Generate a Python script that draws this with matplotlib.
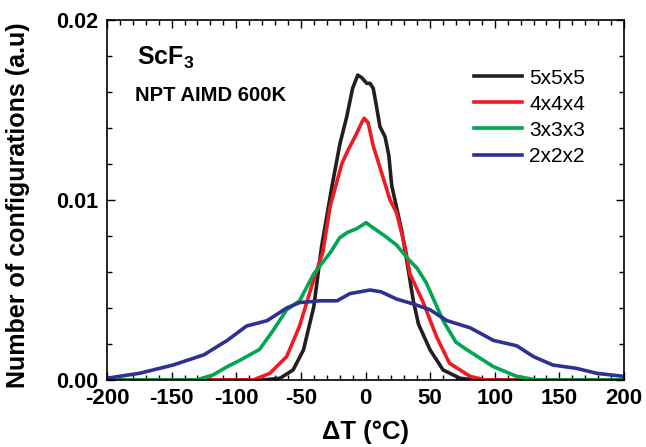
import matplotlib
matplotlib.use("Agg")
import matplotlib.pyplot as plt
from matplotlib.ticker import MultipleLocator, FormatStrFormatter

# ---- data ----
t_555 = [-200, -80, -66, -56, -48, -40, -34, -26, -19.7, -14.5, -10, -6, -3, 1, 3.5, 6, 8.5, 11.2, 15.1, 18, 20.3, 24, 28, 32, 37, 41, 50, 60, 73, 85, 200]
y_555 = [0, 0, 0.0001, 0.00056, 0.00167, 0.00407, 0.0074, 0.01074, 0.01315, 0.01463, 0.0162, 0.01694, 0.0168, 0.01648, 0.01648, 0.0162, 0.0152, 0.01407, 0.01352, 0.0125, 0.0108, 0.0096, 0.0083, 0.0066, 0.0044, 0.0031, 0.00167, 0.00056, 0.0001, 0, 0]

t_444 = [-200, -87, -74, -61, -51, -40, -33, -27.5, -18.4, -13.3, -6.8, -3, -1, 2, 6, 12.5, 19, 24, 30.6, 34.4, 44.7, 55, 65, 81, 93, 200]
y_444 = [0, 0, 0.00037, 0.0013, 0.003, 0.0056, 0.0071, 0.0096, 0.012, 0.0128, 0.0137, 0.0143, 0.01454, 0.0143, 0.013, 0.0115, 0.01, 0.0093, 0.0074, 0.0059, 0.0043, 0.0024, 0.00093, 0.0002, 0, 0]

t_333 = [-200, -131, -118, -107, -97, -82, -71, -61, -51, -40, -27, -20, -14, -7, 0.5, 5, 15, 24, 32, 40, 47, 60, 70, 78, 99, 117, 133, 200]
y_333 = [0, 0, 0.00028, 0.00074, 0.0011, 0.0017, 0.0028, 0.0039, 0.0044, 0.0059, 0.0071, 0.0079, 0.0082, 0.0084, 0.00874, 0.0085, 0.0080, 0.0075, 0.0068, 0.0062, 0.0054, 0.0033, 0.0021, 0.0017, 0.00074, 0.0002, 0, 0]

t_222 = [-200, -175, -149, -125, -107, -92, -76, -61, -51, -35, -22, -12, 3.5, 12, 24, 38, 50, 63, 81, 99, 117, 130, 145, 163, 179, 200]
y_222 = [0.0001, 0.00037, 0.00083, 0.0014, 0.0022, 0.003, 0.0033, 0.004, 0.0043, 0.0044, 0.0044, 0.0048, 0.005, 0.0049, 0.0045, 0.0042, 0.0039, 0.0033, 0.0029, 0.0022, 0.0019, 0.0013, 0.00083, 0.00065, 0.00037, 0.0002]

labels = ["5x5x5", "4x4x4", "3x3x3", "2x2x2"]
colors = ["#231f20", "#ed1c24", "#00a651", "#2e3192"]

plt.rcParams['font.family'] = ['Liberation Sans', 'DejaVu Sans']
plt.rcParams['axes.unicode_minus'] = False
plt.rcParams['mathtext.fontset'] = 'custom'
plt.rcParams['mathtext.rm'] = 'Liberation Sans'
plt.rcParams['mathtext.bf'] = 'Liberation Sans:bold'

fig = plt.figure(figsize=(6.46, 4.47), dpi=100)
ax = fig.add_axes([107/646, 1-380/447, (624-107)/646, (380-20)/447])

series = [(t_555, y_555), (t_444, y_444), (t_333, y_333), (t_222, y_222)]
for (t, y), lab, c in zip(series, labels, colors):
    ax.plot(t, y, color=c, lw=2.6, label=lab, solid_joinstyle='round')

ax.set_xlim(-200, 200)
ax.set_ylim(0, 0.02)
ax.xaxis.set_major_locator(MultipleLocator(50))
ax.xaxis.set_minor_locator(MultipleLocator(10))
ax.yaxis.set_major_locator(MultipleLocator(0.01))
ax.yaxis.set_minor_locator(MultipleLocator(0.002))
ax.yaxis.set_major_formatter(FormatStrFormatter('%.2f'))
ax.tick_params(which='both', direction='in', top=True, right=True, width=1.0)
ax.tick_params(which='major', length=6)
ax.tick_params(which='minor', length=3.5)
ax.tick_params(axis='x', which='major', labelsize=16, pad=6)
ax.tick_params(axis='y', which='major', labelsize=15.5, pad=6)
for lbl in ax.get_xticklabels() + ax.get_yticklabels():
    lbl.set_fontweight('bold')
for s in ax.spines.values():
    s.set_linewidth(1.2)

ax.set_xlabel("ΔT (°C)", fontsize=18.5, fontweight='bold', labelpad=8)
ax.set_ylabel("Number of configurations (a.u)", fontsize=18, fontweight='bold')
ax.yaxis.set_label_coords(-0.149, 0.486)

ax.text(0.058, 0.875, r"ScF$_\mathbf{3}$", transform=ax.transAxes, fontsize=18, fontweight='bold', va='baseline', ha='left')
ax.text(0.054, 0.775, "NPT AIMD 600K", transform=ax.transAxes, fontsize=14.6, fontweight='bold', va='baseline', ha='left')

leg = ax.legend(loc='upper right', bbox_to_anchor=(0.925, 0.865), frameon=False, fontsize=15,
                handlelength=2.3, handletextpad=0.35, labelspacing=0.34, borderaxespad=0.0,
                borderpad=0.0)

fig.savefig("out.png", dpi=100)
